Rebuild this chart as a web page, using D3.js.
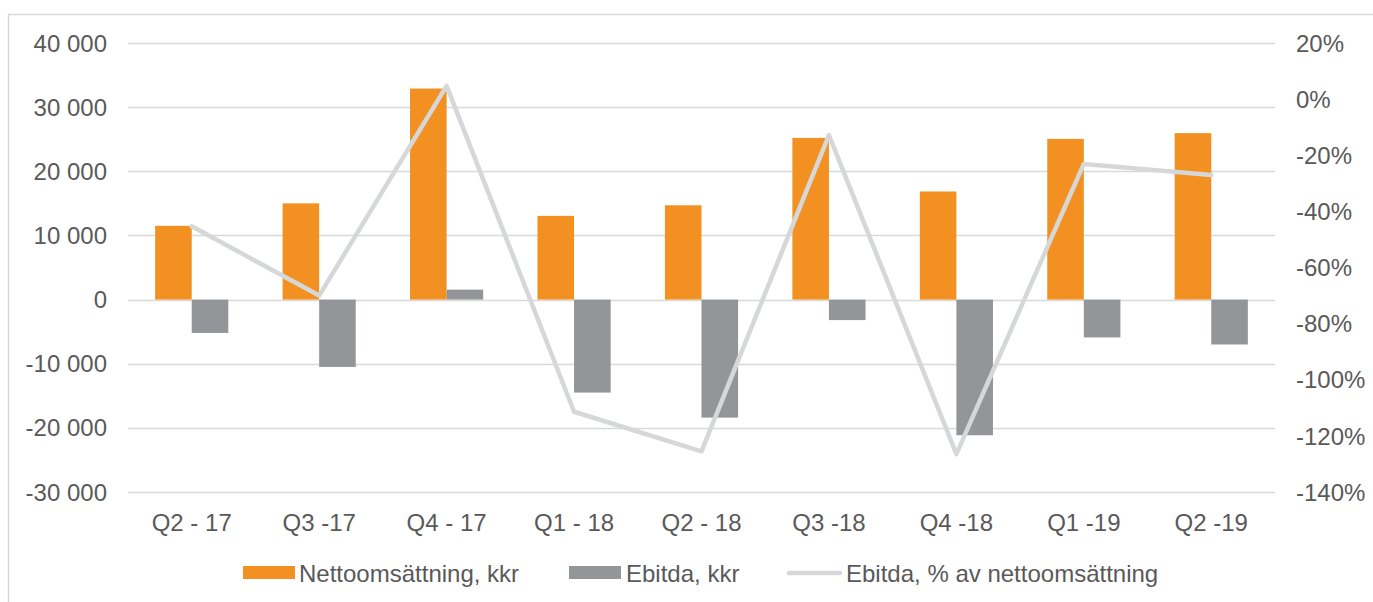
<!DOCTYPE html>
<html>
<head>
<meta charset="utf-8">
<script src="https://cdn.jsdelivr.net/npm/d3@7"></script>
<style>
  body { margin: 0; background: #fff; }
  text { font-family: "Liberation Sans", Arial, sans-serif; fill: #595959; }
</style>
</head>
<body>
<svg id="chart" width="1373" height="602"></svg>
<script>
// quarters on the x axis
const quarters = ["Q2 - 17", "Q3 -17", "Q4 - 17", "Q1 - 18", "Q2 - 18", "Q3 -18", "Q4 -18", "Q1 -19", "Q2 -19"]
// Nettoomsättning, kkr
const sales = [11500, 15000, 32900, 13050, 14700, 25200, 16850, 25050, 25950]
// Ebitda, kkr
const ebitda = [-5200, -10500, 1550, -14500, -18400, -3200, -21150, -5900, -7000]
// Ebitda, % av nettoomsättning
const ebitdaPct = [-45.3, -70, 4.7, -111.4, -125.5, -12.8, -126.5, -23.1, -27]

const leftTicks = [40000, 30000, 20000, 10000, 0, -10000, -20000, -30000]
const rightTicks = [20, 0, -20, -40, -60, -80, -100, -120, -140]
const seriesNames = ["Nettoomsättning, kkr", "Ebitda, kkr", "Ebitda, % av nettoomsättning"]

const orange = "#F29121", grey = "#939598", lineGrey = "#D6D7D8", grid = "#D9D9D9"

const svg = d3.select("#chart")
const plotL = 128, plotR = 1275, plotT = 43, plotB = 492
const fs = "24px"

// frame round the chart
svg.append("rect")
  .attr("x", 8.5).attr("y", 14.5)
  .attr("width", 1400).attr("height", 700)
  .attr("fill", "none").attr("stroke", grid).attr("stroke-width", 1.5)

const x = d3.scaleBand().domain(quarters).range([plotL, plotR])
const y = d3.scaleLinear().domain([-30000, 40000]).range([plotB, plotT])
const y2 = d3.scaleLinear().domain([-140, 20]).range([plotB, plotT])
const barW = x.bandwidth() * 0.287

const fmt = d => d3.format(",")(d).replace(/,/g, " ").replace("−", "-")

// gridlines
svg.append("g")
  .selectAll("line")
  .data(leftTicks)
  .join("line")
  .attr("x1", plotL).attr("x2", plotR)
  .attr("y1", d => Math.round(y(d)) + 0.5)
  .attr("y2", d => Math.round(y(d)) + 0.5)
  .attr("stroke", grid).attr("stroke-width", 1.5)

// left axis labels
svg.append("g")
  .selectAll("text")
  .data(leftTicks)
  .join("text")
  .attr("x", 107)
  .attr("y", d => y(d))
  .attr("dy", "0.36em")
  .attr("text-anchor", "end")
  .style("font-size", fs)
  .text(d => fmt(d))

// right axis labels
svg.append("g")
  .selectAll("text")
  .data(rightTicks)
  .join("text")
  .attr("x", 1296)
  .attr("y", d => y2(d))
  .attr("dy", "0.36em")
  .style("font-size", fs)
  .text(d => d + "%")

// x labels
svg.append("g")
  .selectAll("text")
  .data(quarters)
  .join("text")
  .attr("x", d => x(d) + x.bandwidth() / 2)
  .attr("y", 522)
  .attr("dy", "0.36em")
  .attr("text-anchor", "middle")
  .style("font-size", fs)
  .text(d => d)

// bars
svg.append("g")
  .selectAll("rect")
  .data(sales)
  .join("rect")
  .attr("x", (d, i) => x(quarters[i]) + x.bandwidth() / 2 - barW)
  .attr("y", d => y(Math.max(0, d)))
  .attr("width", barW)
  .attr("height", d => Math.abs(y(d) - y(0)))
  .attr("fill", orange)

svg.append("g")
  .selectAll("rect")
  .data(ebitda)
  .join("rect")
  .attr("x", (d, i) => x(quarters[i]) + x.bandwidth() / 2)
  .attr("y", d => y(Math.max(0, d)))
  .attr("width", barW)
  .attr("height", d => Math.abs(y(d) - y(0)))
  .attr("fill", grey)

// percent line
const line = d3.line()
  .x((d, i) => x(quarters[i]) + x.bandwidth() / 2)
  .y(d => y2(d))

svg.append("path")
  .datum(ebitdaPct)
  .attr("d", line)
  .attr("fill", "none")
  .attr("stroke", lineGrey)
  .attr("stroke-width", 4.5)
  .attr("stroke-linejoin", "round")
  .attr("stroke-linecap", "round")

// legend
const lg = svg.append("g")
lg.append("rect").attr("x", 243).attr("y", 566).attr("width", 52).attr("height", 13).attr("fill", orange)
lg.append("rect").attr("x", 569).attr("y", 566).attr("width", 52).attr("height", 13).attr("fill", grey)
lg.append("line").attr("x1", 789).attr("x2", 840).attr("y1", 573).attr("y2", 573)
  .attr("stroke", lineGrey).attr("stroke-width", 4.5).attr("stroke-linecap", "round")
const lx = [299, 626, 846]
lg.selectAll("text")
  .data(seriesNames)
  .join("text")
  .attr("x", (d, i) => lx[i])
  .attr("y", 573)
  .attr("dy", "0.36em")
  .style("font-size", fs)
  .text(d => d)
</script>
</body>
</html>
